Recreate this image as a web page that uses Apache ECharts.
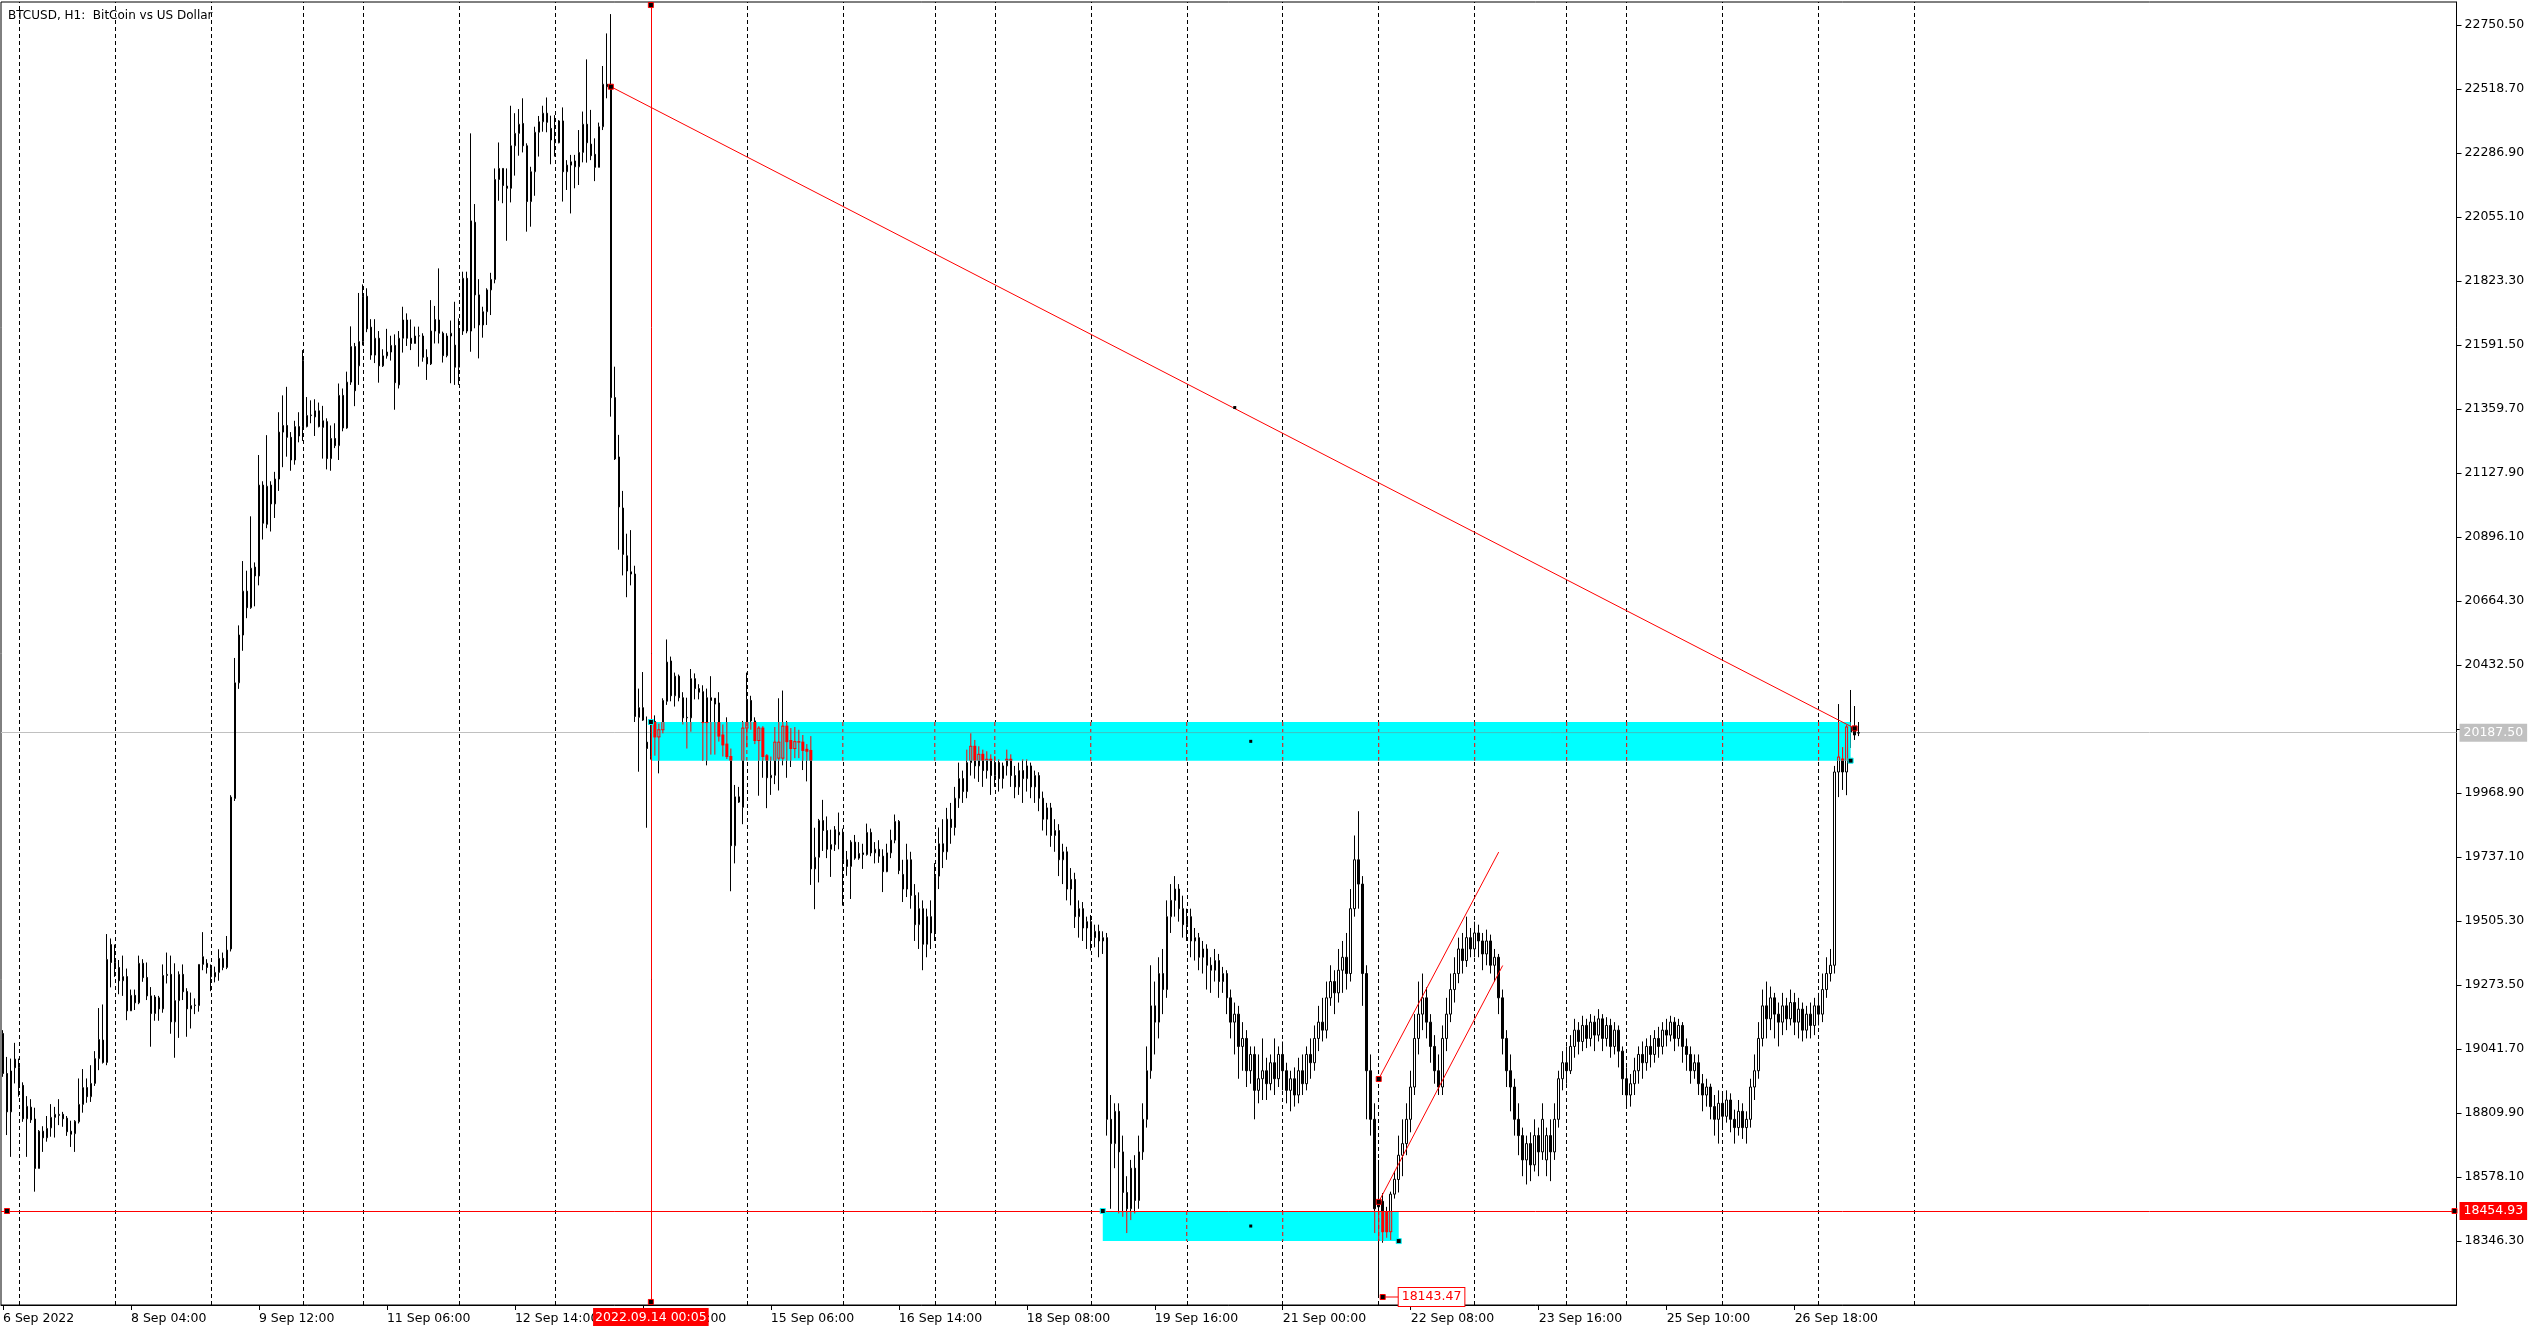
<!DOCTYPE html>
<html><head><meta charset="utf-8">
<script src="https://cdn.jsdelivr.net/npm/echarts@6/dist/echarts.min.js"></script>
<style>html,body{margin:0;padding:0;background:#fff}#c{width:2544px;height:1332px}</style>
</head><body><div id="c"></div>
<script>
const chartTitle = 'BTCUSD, H1:  BitCoin vs US Dollar';
const tickLabels = ['6 Sep 2022','8 Sep 04:00','9 Sep 12:00','11 Sep 06:00','12 Sep 14:00','13 Sep 22:00','15 Sep 06:00','16 Sep 14:00','18 Sep 08:00','19 Sep 16:00','21 Sep 00:00','22 Sep 08:00','23 Sep 16:00','25 Sep 10:00','26 Sep 18:00'];
const barsPerLabel = 32;
const totalSlots = 614;
const dayStartBars = [4,28,52,75,90,114,138,162,186,210,233,248,272,296,320,344,368,391,406,430,454,478];
const yMin = 18114.5, yMax = 22833.8, yStep = 231.8;
const hiddenTick = 20200.7;

// [open, close, low, high]
const bars6to8 = [
[19098,18953,18941,19110],[18953,18814,18730,19013],[18814,18962,18651,19007],[19005,18974,18917,19064],
[18975,18908,18869,19007],[18910,18789,18778,18921],[18789,18834,18651,18871],[18831,18785,18774,18860],
[18788,18609,18525,18829],[18609,18744,18609,18748],[18744,18720,18669,18762],[18720,18754,18706,18799],
[18756,18794,18724,18842],[18794,18805,18721,18832],[18801,18805,18766,18860],[18805,18789,18760,18814],
[18791,18742,18727,18799],[18744,18733,18687,18782],[18735,18780,18669,18784],[18778,18841,18772,18935],
[18841,18902,18811,18969],[18902,18869,18847,18935],[18869,18917,18850,18983],[18917,19007,18908,19034],
[19007,19076,18965,19190],[19074,18993,18989,19203],[18993,19366,18983,19458],[19420,19355,19265,19442],
[19355,19339,19303,19420],[19337,19289,19240,19364],[19289,19304,19234,19380],[19304,19180,19146,19333],
[19180,19236,19180,19257],[19236,19209,19183,19257],[19209,19352,19204,19380],[19352,19300,19285,19367],
[19301,19234,19219,19355],[19234,19170,19050,19266],[19170,19230,19144,19237],[19227,19187,19144,19234],
[19187,19308,19173,19348],[19308,19312,19279,19391],[19312,19140,19097,19380],[19140,19217,19010,19352],
[19217,19312,19082,19323],[19312,19249,19219,19348],[19250,19187,19086,19262],[19187,19199,19116,19246],
[19199,19201,19168,19225],[19199,19348,19177,19348],[19348,19376,19327,19465],[19352,19337,19315,19367],
[19333,19303,19251,19348],[19303,19319,19283,19340],[19319,19370,19289,19403],[19370,19337,19327,19391],
[19337,19400,19331,19451]
];
const bars9to11 = [
[19404,19954,19395,19961],[19949,20368,19940,20458],[20368,20541,20346,20576],[20541,20700,20484,20809],
[20700,20640,20602,20774],[20640,20783,20636,20971],[20787,20755,20645,20804],[20755,21084,20721,21193],
[21084,20946,20887,21098],[20942,21080,20928,21265],[21084,21016,20916,21098],[21016,21106,20965,21132],
[21106,21276,21063,21348],[21276,21300,21149,21409],[21300,21257,21187,21440],[21257,21175,21136,21276],
[21175,21296,21158,21317],[21296,21262,21239,21348],[21535,21296,21244,21573],[21296,21336,21293,21403],
[21336,21338,21308,21391],[21331,21353,21262,21395],[21353,21296,21293,21383],[21293,21317,21180,21371],
[21314,21180,21141,21326],[21180,21253,21136,21300],[21253,21227,21218,21308],[21227,21409,21175,21452],
[21409,21291,21279,21434],[21291,21457,21288,21495],[21457,21586,21447,21659],[21586,21426,21370,21599],
[21516,21604,21447,21780],[21604,21768,21590,21811],[21768,21650,21638,21797],[21656,21555,21538,21685],
[21555,21616,21526,21685],[21616,21516,21455,21642],[21516,21552,21512,21576],[21552,21566,21542,21650],
[21566,21590,21535,21625],[21590,21455,21357,21630],[21447,21616,21434,21642]
];
const bars11to13 = [
[21616,21682,21564,21730],[21682,21616,21588,21706],[21616,21597,21573,21684],[21597,21624,21597,21658],
[21624,21625,21513,21658],[21624,21547,21531,21634],[21547,21523,21465,21576],[21523,21642,21519,21754],
[21642,21684,21597,21733],[21682,21634,21597,21869],[21634,21553,21528,21640],[21553,21624,21547,21634],
[21624,21634,21453,21680],[21591,21511,21447,21748],[21511,21642,21447,21688],[21642,21833,21628,21857],
[21833,21642,21634,21857],[21642,22041,21567,22358],[22036,21773,21652,22102],[21773,21664,21543,21830],
[21664,21712,21618,21730],[21712,21791,21664,21797],[21791,21829,21700,21853],[21829,22191,21815,22231],
[22191,22231,22114,22325],[22231,22169,22105,22231],[22167,22159,21969,22231],[22159,22313,22108,22458],
[22313,22358,22205,22431],[22358,22391,22277,22446],[22394,22313,22289,22485],[22313,22111,22002,22322],
[22111,22219,22020,22237],[22219,22362,22132,22382],[22362,22400,22274,22421],[22400,22431,22364,22458],
[22431,22398,22362,22488],[22376,22334,22246,22422],[22334,22324,22274,22424],[22324,22403,22322,22406],
[22403,22219,22111,22452],[22219,22243,22153,22261],[22243,22255,22068,22280],[22258,22237,22159,22280],
[22237,22289,22171,22370],[22289,22391,22253,22437],[22391,22324,22252,22626],[22319,22277,22261,22443],
[22282,22235,22185,22340],[22235,22382,22235,22397],[22382,22536,22370,22602],[22536,22527,22485,22720],
[22527,21401,21332,22790],[21401,21179,21175,21513]
];
const bars13to16 = [
[21186,21005,20850,21266],[21001,20833,20757,21063],[20828,20773,20678,20908],[20770,20762,20721,20921],
[20762,20246,20226,20792],[20243,20278,20046,20347],[20278,20233,20230,20407],[20153,20130,19843,20246],
[20220,20100,20090,20230],[20228,20172,20104,20250],[20172,20198,20040,20220],[20198,20304,20185,20312],
[20301,20443,20288,20525],[20447,20321,20301,20463],[20321,20392,20282,20405],[20392,20314,20301,20398],
[20314,20241,20217,20334],[20241,20243,20130,20314],[20241,20383,20191,20418],[20383,20347,20308,20402],
[20347,20334,20308,20363],[20336,20224,20086,20359],[20224,20314,20069,20347],[20314,20304,20108,20392],
[20312,20291,20108,20312],[20295,20175,20155,20334],[20179,20143,20101,20217],[20146,20101,20092,20243],
[20101,19778,19613,20130],[19778,19955,19714,19998],[19955,19936,19933,19991],[19917,20204,19856,20230],
[20204,20308,20134,20405],[20304,20230,20198,20321],[20230,20159,20146,20243],[20159,20204,19959,20211],
[20204,20101,20024,20211],[20104,20024,19914,20110],[20024,20033,19962,20101],[20033,20153,20001,20208],
[20095,20153,19978,20312],[20095,20211,20069,20340],[20211,20155,20024,20230],[20159,20130,20063,20204],
[20130,20155,20095,20208],[20155,20153,20095,20198],[20153,20123,20052,20179],[20127,20120,20011,20146],
[20123,19694,19636,20175],[19694,19736,19548,19843],[19736,19869,19645,19875],[19869,19833,19759,19944],
[19833,19765,19733,19884],[19765,19782,19665,19836],[19782,19836,19759,19849],[19817,19827,19765,19898],
[19827,19727,19561,19840],[19727,19703,19669,19759],[19703,19791,19585,19798],[19791,19733,19727,19817],
[19733,19750,19727,19791],[19752,19746,19694,19785],[19746,19826,19742,19858],[19826,19752,19740,19840],
[19752,19765,19714,19791],[19765,19740,19716,19798],[19740,19684,19610,19765],[19684,19752,19682,19785],
[19752,19798,19733,19836],[19798,19866,19787,19891],[19866,19688,19675,19871]
];
const bars16to19 = [
[19674,19621,19574,19727],[19621,19727,19592,19785],[19727,19598,19550,19756],[19598,19492,19433,19639],
[19492,19550,19404,19609],[19550,19421,19327,19580],[19421,19521,19374,19550],[19521,19462,19404,19580],
[19462,19668,19433,19715],[19668,19785,19621,19844],[19785,19756,19697,19874],[19756,19874,19727,19915],
[19874,19844,19785,19933],[19844,19950,19815,19991],[19950,20021,19915,20079],[20021,19974,19933,20050],
[19974,20079,19950,20126],[20079,20138,20032,20185],[20138,20067,20021,20161],[20067,20109,20009,20138],
[20109,20050,19991,20126],[20050,20091,20021,20120],[20091,20032,19962,20109],[20032,20079,19991,20103],
[20079,20021,19974,20091],[20021,20067,19985,20079],[20067,20091,20032,20126],[20091,20032,19991,20109],
[20032,19991,19950,20067],[19991,20050,19962,20079],[20050,20021,19933,20091],[20021,20067,19974,20091],
[20067,19991,19950,20079],[19991,20032,19933,20050],[20032,19950,19903,20044],[19950,19874,19833,19974],
[19874,19915,19815,19933],[19915,19815,19774,19933],[19815,19833,19756,19874],[19833,19727,19668,19856],
[19727,19756,19639,19785],[19756,19621,19580,19774],[19621,19656,19562,19697],[19656,19521,19480,19680],
[19521,19550,19445,19580],[19550,19480,19433,19574],[19480,19503,19404,19521],[19503,19445,19398,19527],
[19445,19468,19410,19492],[19468,19433,19374,19492],[19433,19445,19386,19468]
];
const bars19to21 = [
[19445,18787,18728,19462],[18787,18699,18463,18875],[18699,18816,18610,18845],[18816,18669,18446,18845],
[18669,18522,18434,18728],[18522,18463,18375,18581],[18463,18610,18422,18640],[18610,18493,18446,18657],
[18493,18669,18463,18728],[18669,18787,18640,18845],[18787,18963,18757,19051],[18963,19198,18934,19345],
[19198,19139,19022,19286],[19139,19315,19080,19374],[19315,19257,19168,19404],[19257,19521,19227,19580],
[19521,19580,19462,19639],[19580,19621,19521,19668],[19621,19550,19503,19639],[19550,19492,19445,19597],
[19492,19521,19433,19550],[19521,19433,19374,19550],[19433,19445,19362,19480],[19445,19374,19327,19462],
[19374,19404,19315,19433],[19404,19345,19257,19421],[19345,19327,19245,19374],[19327,19362,19286,19404],
[19362,19286,19227,19386],[19286,19315,19245,19339],[19315,19227,19168,19327],[19227,19139,19080,19257],
[19139,19168,19022,19210],[19168,19051,18934,19198],[19051,19080,18963,19139],[19080,18963,18904,19110],
[18963,19022,18916,19051],[19022,18892,18787,19051],[18892,18934,18845,19022],[18934,18963,18857,19080],
[18963,18916,18857,19010],[18916,18992,18892,19022],[18992,18934,18875,19080],[18934,19022,18904,19051],
[19022,18963,18892,19069],[18963,18892,18845,18992],[18892,18934,18816,18963],[18934,18875,18833,18975],
[18875,18963,18845,19010],[18963,18916,18875,19022],[18916,19022,18892,19051],[19022,18992,18934,19080],
[18992,19080,18963,19127],[19080,19139,19034,19198],[19139,19110,19069,19227],[19110,19227,19080,19286],
[19227,19286,19198,19345],[19286,19245,19168,19327],[19245,19327,19210,19404],[19327,19374,19245,19433],
[19374,19315,19257,19462],[19315,19550,19286,19621],[19550,19727,19521,19815],[19727,19639,19550,19903],
[19639,19315,19198,19668],[19315,18963,18787,19345],[18963,18787,18728,19022],[18787,18463,18375,18845],
[18488,18470,18143.47,18640],[18490,18380,18340,18520],[18452,18380,18358,18470],[18380,18516,18350,18525],
[18516,18570,18500,18600]
];
const bars22to23 = [
[18569,18657,18522,18728],[18657,18699,18581,18787],[18699,18787,18657,18845],[18787,18904,18740,18963],
[18904,19080,18875,19168],[19080,19168,19022,19286],[19168,19227,19110,19315],[19227,19139,19080,19265],
[19139,19051,18992,19168],[19051,18963,18916,19092],[18963,18904,18875,19022],[18904,19080,18875,19127],
[19080,19168,19034,19227],[19168,19257,19139,19315],[19257,19315,19210,19374],[19315,19404,19280,19445],
[19404,19362,19315,19462],[19362,19445,19339,19521],[19445,19404,19374,19480],[19404,19462,19374,19503],
[19462,19433,19374,19492],[19433,19386,19327,19462],[19386,19433,19345,19474],[19433,19345,19315,19456],
[19345,19374,19286,19404],[19374,19227,19168,19386],[19227,19080,19022,19257],[19080,18963,18904,19110],
[18963,18904,18816,19022],[18904,18787,18728,18934],[18787,18728,18657,18845],[18728,18640,18581,18757],
[18640,18699,18551,18728],[18699,18622,18563,18740],[18622,18728,18598,18787],[18728,18669,18581,18757],
[18669,18787,18640,18845]
];
const bars23to27 = [
[18640,18728,18581,18757],[18728,18669,18563,18787],[18669,18787,18640,18845],[18787,18934,18757,18963],
[18934,18992,18892,19034],[18992,18963,18916,19051],[18963,19051,18951,19092],[19051,19110,19010,19151],
[19110,19069,19022,19139],[19069,19127,19034,19162],[19127,19080,19045,19151],[19080,19139,19051,19168],
[19139,19092,19034,19162],[19092,19151,19069,19186],[19151,19080,19034,19168],[19080,19127,19051,19157],
[19127,19051,19010,19151],[19051,19110,19022,19139],[19110,19034,18975,19127],[19034,18934,18875,19051],
[18934,18875,18833,18975],[18875,18916,18833,18951],[18916,18963,18875,19010],[18963,19022,18916,19051],
[19022,18992,18934,19069],[18992,19051,18963,19080],[19051,19022,18975,19092],[19022,19080,18992,19110],
[19080,19051,19010,19122],[19051,19110,19022,19139],[19110,19092,19051,19151],[19092,19139,19069,19162],
[19139,19080,19034,19157],[19080,19127,19051,19151],[19127,19051,18992,19139],[19051,19022,18963,19080],
[19022,18963,18916,19051],[18963,18992,18934,19022],[18992,18916,18875,19022],[18916,18875,18816,18951],
[18875,18904,18833,18934],[18904,18833,18787,18916],[18833,18787,18728,18875],[18787,18845,18699,18892],
[18845,18798,18757,18875],[18798,18857,18775,18892],[18857,18787,18740,18881],[18787,18757,18699,18822],
[18757,18816,18728,18857],[18816,18757,18716,18845],[18757,18787,18699,18816],[18787,18904,18757,18934],
[18904,18963,18857,19022],[18963,19080,18934,19139],[19080,19198,19051,19257],[19198,19151,19080,19286],
[19151,19227,19110,19268],[19227,19168,19080,19245],[19168,19139,19051,19210],[19139,19198,19092,19245],
[19198,19151,19110,19227],[19151,19210,19127,19257],[19210,19139,19092,19245],[19139,19186,19080,19227],
[19186,19110,19069,19210],[19110,19168,19080,19198],[19168,19127,19080,19210],[19127,19198,19092,19227],
[19198,19168,19127,19245],[19168,19257,19139,19315],[19257,19315,19227,19374],[19315,19345,19286,19404],
[19345,20045,19315,20067],[20045,20099,19954,20291],[20092,20045,19980,20135],[20045,20208,19961,20215],
[20208,20190,20132,20342],[20201,20179,20161,20284],[20186,20187.5,20175,20226]
];

const currentPrice = 20187.5;
const supportLevel = 18454.93;
const vLineBar = 162;
const vLineLabel = '2022.09.14 00:05';
const trendLine = [[152, 22527], [463, 20203]];
const channelUpper = [[344, 18933], [374, 19755]];
const channelLower = [[344, 18488], [375, 19344]];
const zone1 = [162, 462, 20226, 20086];
const zone2 = [275, 349, 18455, 18346];
const lowMark = [345, 18143.47];
const lowMarkEnd = 349;

const candles = [].concat(bars6to8, bars9to11, bars11to13, bars13to16, bars16to19, bars19to21, bars22to23, bars23to27);
const zones = [zone1, zone2];
const slots = Array.from({length: totalSlots}, (_, i) => String(i));
const FONT = 'DejaVu Sans';
const FS = 12.5;
const isLabelSlot = (i) => i % barsPerLabel === 0 && i / barsPerLabel < tickLabels.length;

const mid = (a, b) => [(a[0] + b[0]) / 2, (a[1] + b[1]) / 2];
const redMarkers = [trendLine[0], trendLine[1], channelUpper[0], channelLower[0],
  [vLineBar, yMax - 11], [vLineBar, yMin + 11], [1, supportLevel], [totalSlots - 1, supportLevel]];
const cyanMarkers = [[zone1[0], zone1[2]], [zone1[1], zone1[3]], [zone2[0], zone2[2]], [zone2[1], zone2[3]]];
const dotMarkers = [mid(trendLine[0], trendLine[1]),
  [(zone1[0] + zone1[1]) / 2, (zone1[2] + zone1[3]) / 2], [(zone2[0] + zone2[1]) / 2, (zone2[2] + zone2[3]) / 2]];

// Inside the filled rectangles, MetaTrader inverts the colours: black -> red, white -> cyan.
function renderZone(params, api) {
  const z = zones[params.dataIndex];
  const p1 = api.coord([z[0], z[2]]), p2 = api.coord([z[1], z[3]]);
  const yT = p1[1], yB = p2[1];
  const cl = (y) => Math.min(Math.max(y, yT), yB);
  const RED = '#ff0000';
  const ch = [{type: 'rect', shape: {x: p1[0], y: yT, width: p2[0] - p1[0], height: yB - yT}, style: {fill: '#00ffff'}}];
  dayStartBars.forEach((b) => {
    if (b > z[0] && b < z[1]) {
      const x = api.coord([b, z[2]])[0];
      ch.push({type: 'line', shape: {x1: x, y1: yT, x2: x, y2: yB}, style: {stroke: RED, lineWidth: 1, lineDash: [4, 3]}});
    }
  });
  if (currentPrice < z[2] && currentPrice > z[3]) {
    const y = api.coord([z[0], currentPrice])[1];
    ch.push({type: 'line', shape: {x1: p1[0], y1: y, x2: p2[0], y2: y}, style: {stroke: '#3fc0c0', lineWidth: 1}});
  }
  const seg = (x1, y1, x2, y2) => ch.push({type: 'line', shape: {x1, y1, x2, y2}, style: {stroke: RED, lineWidth: 1}});
  for (let i = z[0] + 1; i < z[1] && i < candles.length; i++) {
    const [o, c, l, h] = candles[i];
    const cx = api.coord([i, o])[0];
    const yO = api.coord([i, o])[1], yC = api.coord([i, c])[1];
    const yH = api.coord([i, h])[1], yL = api.coord([i, l])[1];
    const bt = Math.min(yO, yC), bb = Math.max(yO, yC);
    if (yH < bt && cl(yH) < cl(bt)) seg(cx, cl(yH), cx, cl(bt));
    if (yL > bb && cl(bb) < cl(yL)) seg(cx, cl(bb), cx, cl(yL));
    if (bb < yT || bt > yB) continue;
    if (c > o) {
      seg(cx - 1, cl(bt), cx - 1, cl(bb));
      seg(cx + 1, cl(bt), cx + 1, cl(bb));
      if (bt >= yT && bt <= yB) seg(cx - 1.5, bt, cx + 1.5, bt);
      if (bb >= yT && bb <= yB) seg(cx - 1.5, bb, cx + 1.5, bb);
    } else {
      const t = cl(bt - 0.5), b = cl(bb + 0.5);
      ch.push({type: 'rect', shape: {x: cx - 1.5, y: t, width: 3, height: Math.max(b - t, 1)}, style: {fill: RED}});
    }
  }
  return {type: 'group', children: ch};
}

const chart = echarts.init(document.getElementById('c'), null, {renderer: 'canvas'});
const redLine = {type: 'line', symbol: 'none', silent: true, z: 6, lineStyle: {color: '#ff0000', width: 1}, animation: false};

chart.setOption({
  animation: false,
  backgroundColor: '#ffffff',
  title: {text: chartTitle, left: 3, top: 5, textStyle: {fontFamily: FONT, fontSize: 12, fontWeight: 'normal', color: '#000'}},
  grid: {left: 0.5, right: 87.5, top: 2, bottom: 27, show: true, borderColor: '#000', borderWidth: 1, backgroundColor: '#fff'},
  xAxis: {
    type: 'category', data: slots, boundaryGap: true,
    axisLine: {show: true, lineStyle: {color: '#000', width: 1}},
    axisTick: {show: true, length: 5, alignWithLabel: true, interval: isLabelSlot, lineStyle: {color: '#000'}},
    axisLabel: {interval: isLabelSlot, formatter: (v, i) => tickLabels[i / barsPerLabel], align: 'left', margin: 7,
      fontFamily: FONT, fontSize: FS, color: '#000'},
    splitLine: {show: false}
  },
  yAxis: {
    type: 'value', position: 'right', min: yMin, max: yMax, interval: yStep,
    axisLine: {show: true, lineStyle: {color: '#000', width: 1}},
    axisTick: {show: true, length: 5, lineStyle: {color: '#000'}},
    splitLine: {show: false},
    axisLabel: {margin: 8, padding: [5, 0, 0, 0], fontFamily: FONT, fontSize: FS, color: '#000', showMinLabel: false, showMaxLabel: false,
      formatter: (v) => Math.abs(v - hiddenTick) < 1 ? '' : v.toFixed(2)}
  },
  series: [
    {
      type: 'line', data: [], silent: true, z: 1,
      markLine: {
        silent: true, symbol: ['none', 'none'], animation: false, z: 1,
        label: {show: false},
        lineStyle: {color: '#000', type: [4, 3], width: 1},
        data: dayStartBars.map(b => ({xAxis: b}))
      }
    },
    {
      type: 'line', data: [], silent: true, z: 1,
      markLine: {
        silent: true, symbol: ['none', 'none'], animation: false, z: 1,
        lineStyle: {color: '#c0c0c0', type: 'solid', width: 1},
        label: {show: true, position: 'end', formatter: currentPrice.toFixed(2), color: '#fff', backgroundColor: '#c0c0c0',
          padding: [3, 4, 2, 4], fontFamily: FONT, fontSize: FS, distance: 3},
        data: [{yAxis: currentPrice}]
      }
    },
    {
      type: 'candlestick', data: candles, z: 2, silent: true, barWidth: 2,
      itemStyle: {color: '#fff', color0: '#000', borderColor: '#000', borderColor0: '#000', borderColorDoji: '#000', borderWidth: 1}
    },
    {
      type: 'custom', z: 3, silent: true, data: zones, encode: {x: [0, 1], y: [2, 3]}, renderItem: renderZone
    },
    Object.assign({}, redLine, {data: trendLine}),
    Object.assign({}, redLine, {data: channelUpper}),
    Object.assign({}, redLine, {data: channelLower}),
    Object.assign({}, redLine, {data: [lowMark, [lowMarkEnd, lowMark[1]]]}),
    {
      type: 'line', data: [], silent: true, z: 6,
      markLine: {
        silent: true, symbol: ['none', 'none'], animation: false, z: 6,
        lineStyle: {color: '#ff0000', type: 'solid', width: 1},
        label: {show: true, color: '#fff', backgroundColor: '#ff0000', fontFamily: FONT, fontSize: FS},
        data: [
          {yAxis: supportLevel, label: {position: 'end', formatter: supportLevel.toFixed(2), padding: [3, 4, 2, 4], distance: 3}},
          {xAxis: vLineBar, label: {position: 'start', formatter: vLineLabel, padding: [3, 2, 2, 2], distance: 3}}
        ]
      }
    },
    {
      type: 'scatter', data: redMarkers, z: 8, silent: true, symbol: 'rect', symbolSize: 5,
      itemStyle: {color: '#000', borderColor: '#ff0000', borderWidth: 1, opacity: 1}
    },
    {
      type: 'scatter', data: cyanMarkers, z: 8, silent: true, symbol: 'rect', symbolSize: 5,
      itemStyle: {color: '#000', borderColor: '#00ffff', borderWidth: 1, opacity: 1}
    },
    {
      type: 'scatter', data: dotMarkers, z: 8, silent: true, symbol: 'rect', symbolSize: 3,
      itemStyle: {color: '#000', opacity: 1}
    },
    {
      type: 'scatter', data: [lowMark], z: 9, silent: true, symbol: 'rect', symbolSize: 5,
      itemStyle: {color: '#000', borderColor: '#ff0000', borderWidth: 1, opacity: 1},
      label: {show: true, position: 'right', distance: 13, formatter: lowMark[1].toFixed(2), color: '#ff0000',
        backgroundColor: '#fff', borderColor: '#ff0000', borderWidth: 1, padding: [3, 3, 2, 3], fontFamily: FONT, fontSize: FS}
    }
  ]
});
</script></body></html>
